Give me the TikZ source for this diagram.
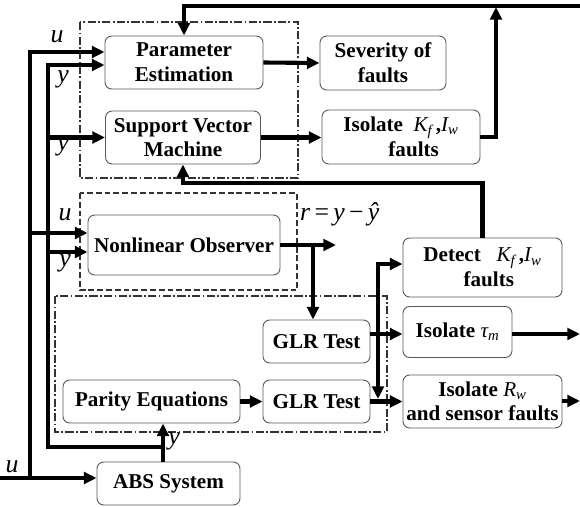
\documentclass[tikz,border=0pt]{standalone}
\usepackage{fontspec}
\setmainfont{Liberation Serif}
\usetikzlibrary{arrows.meta}
\newcommand{\vr}[1]{{\normalfont\itshape #1}}
\newcommand{\sbs}[1]{\textsubscript{\normalfont\itshape #1}}
\begin{document}
\begin{tikzpicture}[x=0.03cm,y=-0.03cm,
  box/.style={draw=black!65, line width=0.8pt, rounded corners=0.2cm, fill=white,
    font=\fontsize{18}{21}\selectfont\bfseries, align=center, inner sep=0pt},
  tip/.tip={Triangle[length=3.8mm,width=3.5mm]},
  wire/.style={line width=3.5pt, -tip},
  frame/.style={line width=1pt, black!80},
  lbl/.style={font=\fontsize{22}{24}\selectfont\itshape, inner sep=0pt}]
\useasboundingbox (0,0) rectangle (580,507);

% grouping frames
\draw[frame, dash pattern=on 7pt off 2pt on 1.5pt off 2pt] (80,22) rectangle (298,178);
\draw[frame, dash pattern=on 5pt off 2.5pt] (80,193) rectangle (297,290);
\draw[frame, dash pattern=on 7pt off 2pt on 1.5pt off 2pt] (55,296) rectangle (387,432);

% blocks
\node[box, minimum width=4.74cm, minimum height=1.59cm] (pe) at (184,62.5) {Parameter\\Estimation};
\node[box, minimum width=3.78cm, minimum height=1.62cm] (sev) at (383,63) {Severity of\\faults};
\node[box, minimum width=4.65cm, minimum height=1.59cm] (svm) at (183,137.5) {Support Vector\\Machine};
\node[box, minimum width=4.74cm, minimum height=1.62cm] (ikf) at (401,137) {Isolate \ \vr{K}\sbs{f}\,,\vr{I}\sbs{w}\\\hspace*{1.2em}faults};
\node[box, minimum width=5.76cm, minimum height=1.8cm] (nlo) at (184,245) {Nonlinear Observer};
\node[box, minimum width=4.77cm, minimum height=1.77cm] (det) at (482.5,267.5) {Detect \ \ \vr{K}\sbs{f}\,,\vr{I}\sbs{w}\\\hspace*{0.6em}faults};
\node[box, minimum width=3.21cm, minimum height=1.29cm] (glra) at (316.5,341.5) {GLR Test};
\node[box, minimum width=3.27cm, minimum height=1.53cm] (tm) at (457.5,332) {Isolate \vr{τ}\sbs{m}};
\node[box, minimum width=5.31cm, minimum height=1.29cm] (par) at (151.5,401.5) {Parity Equations};
\node[box, minimum width=3.21cm, minimum height=1.29cm] (glrb) at (316.5,401.5) {GLR Test};
\node[box, minimum width=4.77cm, minimum height=1.59cm] (irw) at (482.5,401.5) {Isolate \vr{R}\sbs{w}\\and sensor faults};
\node[box, minimum width=4.29cm, minimum height=1.29cm] (abs) at (168.5,483.5) {ABS System};

% free ends and junctions
\coordinate (topR) at (580,6);
\coordinate (topJ) at (496,7);
\coordinate (uIn) at (0,478);
\coordinate (rOut) at (336,245);
\coordinate (tmOut) at (580,334);
\coordinate (rwOut) at (580,401);
\coordinate (jn) at (378,399);

% feedback paths along the top
\draw[wire] (topR) -| (pe.north);
\draw[wire] (ikf.east) -| (topJ);
\draw[wire] (det.north) |- (svm.south |- 0,183) -- (svm.south);

% outputs of the estimator and classifier
\draw[wire] (pe.east) -- (sev.west);
\draw[wire] (svm.east) -- (ikf.west |- svm.east);

% input u
\draw[wire] (uIn) -- (abs.west |- uIn);
\draw[wire] (30,478) -- (30,52) -- (pe.west |- 0,52);
\draw[wire] (30,233) -- (nlo.west |- 0,233);

% measurement y
\draw[wire] (abs.north -| 163,0) -- (par.south -| 163,0);
\draw[wire] (163,447) -- (48,447) -- (48,65) -- (pe.west |- 0,65);
\draw[wire] (48,137.5) -- (svm.west);
\draw[wire] (48,252) -- (nlo.west |- 0,252);

% residual
\draw[wire] (nlo.east) -- (rOut);
\draw[wire] (313,245) -- (glra.north -| 313,0);

% GLR tests and isolation
\draw[wire] (glra.east |- 0,334) -- (tm.west |- 0,334);
\draw[wire] (tm.east |- tmOut) -- (tmOut);
\draw[wire] (par.east) -- (glrb.west);
\draw[wire] (glrb.east) -- (irw.west |- glrb.east);
\draw[wire] (irw.east |- rwOut) -- (rwOut);
\draw[wire, tip-tip] (jn) -- (378,264) -- (det.west |- 0,264);

% signal labels
\node[lbl] at (57,37) {u};
\node[lbl] at (63,79) {y};
\node[lbl] at (63,147) {y};
\node[lbl] at (65,215) {u};
\node[lbl] at (65,263) {y};
\node[lbl] at (174,441) {y};
\node[lbl] at (12,467) {u};
\node[lbl, anchor=west] at (300,214) {r\,{\upshape =}\,y\,{\upshape −}\,ŷ};
\end{tikzpicture}
\end{document}
